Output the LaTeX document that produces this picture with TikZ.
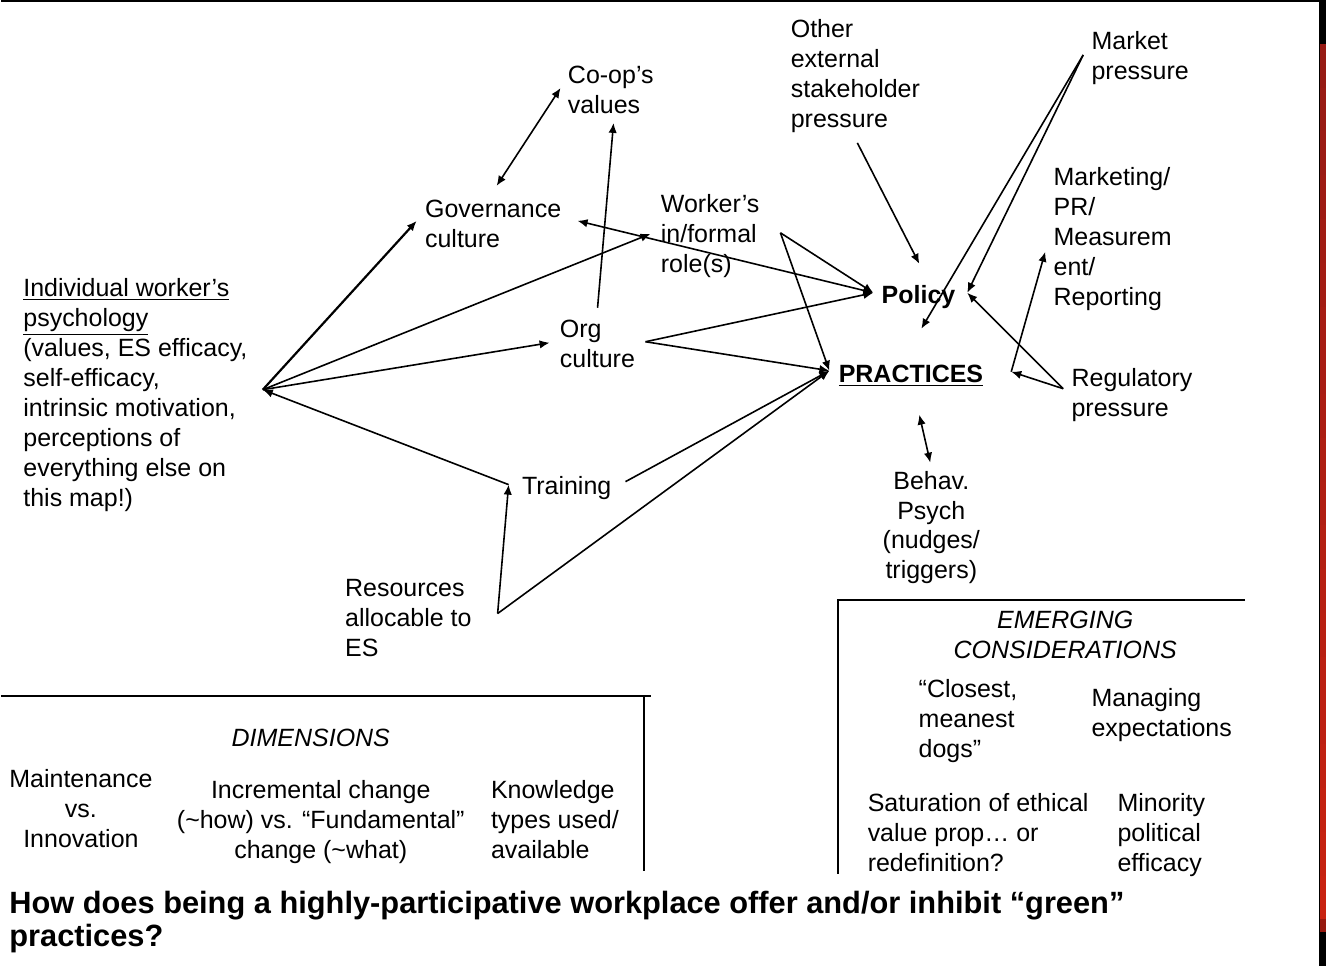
\documentclass[tikz,border=0pt]{standalone}
\usepackage{fontspec}
\setmainfont{Liberation Sans}
\usetikzlibrary{arrows.meta}
\definecolor{stripdark}{RGB}{150,26,20}
\definecolor{stripbright}{RGB}{200,34,16}
\definecolor{stripend}{RGB}{150,24,14}
\begin{document}
\begin{tikzpicture}[x=0.5pt,y=-0.5pt,
  txt/.style={anchor=north west, inner sep=0pt, align=left, font=\fontsize{12.5}{15}\selectfont},
  ctxt/.style={anchor=north, inner sep=0pt, align=center, font=\fontsize{12.5}{15}\selectfont},
  tip/.tip={Latex[length=5pt,width=4.2pt]},
  arr/.style={-tip, line width=0.8pt},
  darr/.style={tip-tip, line width=0.8pt},
  rule/.style={line width=1pt}]
% background and frame
\fill[white] (0,0) rectangle (1326,967);
\fill[black] (0,0) rectangle (1319,2);
\fill[black] (1319,0) rectangle (1326,967);
\foreach \i in {0,...,19} {
  \pgfmathsetmacro{\pct}{100*\i/19}
  \fill[stripbright!\pct!stripdark] (1320,{44+\i*43.8}) rectangle (1326,{44+(\i+1)*43.8+0.5});
}
\fill[stripend] (1320,920) rectangle (1326,933);

% nodes
\node[txt] (ind) at (22,275) {\strut\underline{Individual worker’s}\\\underline{psychology}\\(values, ES efficacy,\\self-efficacy,\\intrinsic motivation,\\perceptions of\\everything else on\\this map!)};
\node[txt] (coop) at (567,62) {\strut Co-op’s\\values};
\node[txt] (gov) at (424,196) {\strut Governance\\culture};
\node[txt] (wrk) at (660,191) {\strut Worker’s\\in/formal\\role(s)};
\node[txt] (org) at (559,316) {\strut Org\\culture};
\node[txt] (trn) at (521,473) {\strut Training};
\node[txt] (res) at (344,576) {\strut Resources\\allocable to\\ES};
\node[txt] (oth) at (790,16) {\strut Other\\external\\stakeholder\\pressure};
\node[txt] (mkt) at (1091,28) {\strut Market\\pressure};
\node[txt] (mktg) at (1053,164) {\strut Marketing/\\PR/\\Measurem\\ent/\\Reporting};
\node[txt, font=\fontsize{12.5}{15}\selectfont\bfseries] (pol) at (881,282) {\strut Policy};
\node[txt, font=\fontsize{12.5}{15}\selectfont\bfseries] (prac) at (838,361) {\strut\underline{PRACTICES}};
\node[txt] (reg) at (1071,365) {\strut Regulatory\\pressure};
\node[ctxt] (beh) at (931,468) {\strut Behav.\\Psych\\(nudges/\\triggers)};

% emerging considerations box
\coordinate (em-tl) at (838,600);
\coordinate (em-tr) at (1245,600);
\coordinate (em-bl) at (838,875);
\draw[rule] (em-tr) -- (em-tl) -- (em-bl);
\node[ctxt, font=\fontsize{12.5}{15}\selectfont\itshape] (emh) at (1065,608) {\strut EMERGING\\CONSIDERATIONS};
\node[txt] (dogs) at (918,677) {\strut “Closest,\\meanest\\dogs”};
\node[txt] (mng) at (1091,686) {\strut Managing\\expectations};
\node[txt] (sat) at (867,791) {\strut Saturation of ethical\\value prop… or\\redefinition?};
\node[txt] (min) at (1117,791) {\strut Minority\\political\\efficacy};

% dimensions box
\coordinate (dm-tl) at (0,697);
\coordinate (dm-tr) at (650,697);
\coordinate (dm-v) at (643,697);
\coordinate (dm-b) at (643,872);
\draw[rule] (dm-tl) -- (dm-tr);
\draw[rule] (dm-v) -- (dm-b);
\node[ctxt, font=\fontsize{12.5}{15}\selectfont\itshape] (dimh) at (310,726) {\strut DIMENSIONS};
\node[ctxt] (mnt) at (80,767) {\strut Maintenance\\vs.\\Innovation};
\node[ctxt] (inc) at (320,778) {\strut Incremental change\\(\textasciitilde how) vs. “Fundamental”\\change (\textasciitilde what)};
\node[txt] (knw) at (490,778) {\strut Knowledge\\types used/\\available};

% title
\node[txt, font=\fontsize{15.4}{15.5}\selectfont\bfseries] (title) at (8,891) {\strut How does being a highly-participative workplace offer and/or inhibit “green”\\practices?};

% connector points
\coordinate (ind-r) at (262,390);
\coordinate (gov-l) at (416,221);
\coordinate (gov-r) at (577,221);
\coordinate (gov-t) at (496,186);
\coordinate (coop-l) at (560,88);
\coordinate (coop-b) at (613,123);
\coordinate (org-t) at (597,308);
\coordinate (org-l) at (549,343);
\coordinate (org-r) at (645,342);
\coordinate (wrk-l) at (650,234);
\coordinate (wrk-r) at (780,233);
\coordinate (trn-l) at (508,485);
\coordinate (trn-r) at (625,482);
\coordinate (res-r) at (497,614);
\coordinate (pol-l) at (873,293);
\coordinate (pol-t) at (919,264);
\coordinate (pol-r) at (967,293);
\coordinate (prac-l) at (829,371);
\coordinate (prac-t) at (921,329);
\coordinate (prac-r) at (1011,372);
\coordinate (prac-b) at (919,415);
\coordinate (oth-b) at (857,143);
\coordinate (mkt-l) at (1083,55);
\coordinate (reg-l) at (1063,389);
\coordinate (mktg-b) at (1045,252);
\coordinate (beh-t) at (930,463);

% connectors
\draw[darr] (coop-l) -- (gov-t);
\draw[arr] (org-t) -- (coop-b);
\draw[arr, line width=1.1pt] (ind-r) -- (gov-l);
\draw[arr] (ind-r) -- (wrk-l);
\draw[arr] (ind-r) -- (org-l);
\draw[arr] (trn-l) -- (ind-r);
\draw[arr] (res-r) -- (trn-l);
\draw[arr] (res-r) -- (prac-l);
\draw[arr] (trn-r) -- (prac-l);
\draw[arr] (org-r) -- (pol-l);
\draw[arr] (org-r) -- (prac-l);
\draw[darr] (gov-r) -- (pol-l);
\draw[arr] (wrk-r) -- (pol-l);
\draw[arr] (wrk-r) -- (prac-l);
\draw[arr] (oth-b) -- (pol-t);
\draw[arr] (mkt-l) -- (prac-t);
\draw[arr] (mkt-l) -- (pol-r);
\draw[arr] (reg-l) -- (pol-r);
\draw[arr] (reg-l) -- (prac-r);
\draw[arr] (prac-r) -- (mktg-b);
\draw[darr] (prac-b) -- (beh-t);
\end{tikzpicture}
\end{document}
